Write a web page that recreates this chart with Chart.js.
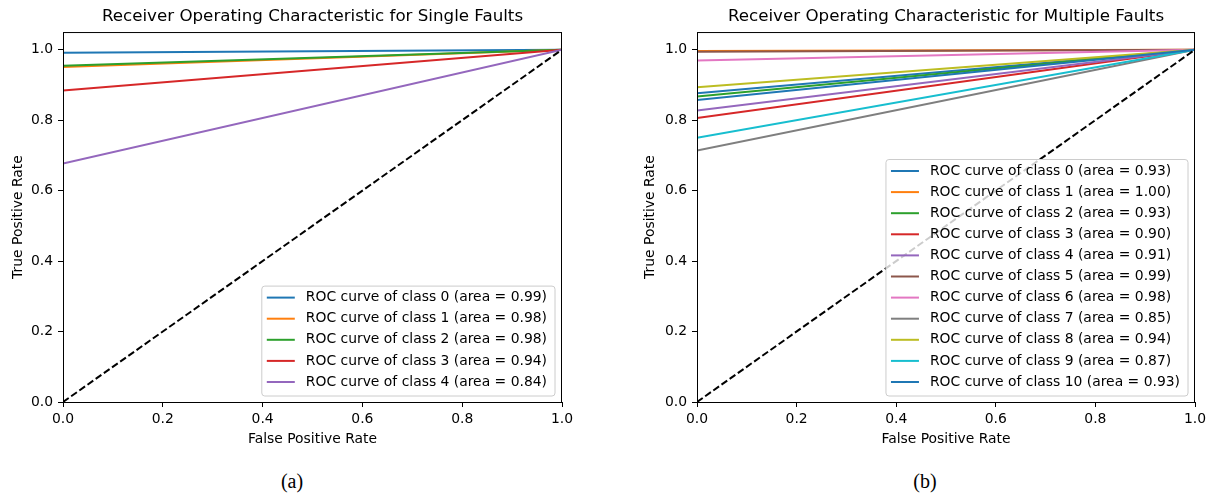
<!DOCTYPE html>
<html>
<head>
<meta charset="utf-8">
<script src="https://cdn.jsdelivr.net/npm/chart.js@4.4.1/dist/chart.umd.min.js"></script>
<style>
    html, body { margin: 0; padding: 0; background: #fff; overflow: hidden; }
    #page { position: relative; width: 1215px; height: 494px; }
    canvas { position: absolute; top: 0; }
    #chartSingle { left: 0; }
    #chartMulti { left: 634px; }
    .caption { position: absolute; top: 470px; width: 60px; text-align: center;
        font-family: "Liberation Serif", "Times New Roman", serif; font-size: 20px; color: #000; }
</style>
</head>
<body>
<div id="page">
    <canvas id="chartSingle" width="600" height="460"></canvas>
    <canvas id="chartMulti" width="581" height="460"></canvas>
    <div class="caption" style="left: 262px;">(a)</div>
    <div class="caption" style="left: 895px;">(b)</div>
</div>
<script>
// ROC data (one operating point per class)
const singleClasses = ['0', '1', '2', '3', '4'];
const singleFpr = [0.0, 0.0, 0.0, 0.0, 0.0];
const singleTpr = [0.991, 0.951, 0.954, 0.884, 0.677];
const singleAuc = ['0.99', '0.98', '0.98', '0.94', '0.84'];

const multiClasses = ['0', '1', '2', '3', '4', '5', '6', '7', '8', '9', '10'];
const multiFpr = [0.0, 0.0, 0.0, 0.0, 0.0, 0.0, 0.0, 0.0, 0.0, 0.0, 0.0];
const multiTpr = [0.876, 0.996, 0.867, 0.806, 0.827, 0.994, 0.969, 0.714, 0.893, 0.750, 0.857];
const multiAuc = ['0.93', '1.00', '0.93', '0.90', '0.91', '0.99', '0.98', '0.85', '0.94', '0.87', '0.93'];

const xTicks = [0.0, 0.2, 0.4, 0.6, 0.8, 1.0];
const yTicks = [0.0, 0.2, 0.4, 0.6, 0.8, 1.0];

const colors = ['#1f77b4', '#ff7f0e', '#2ca02c', '#d62728', '#9467bd',
    '#8c564b', '#e377c2', '#7f7f7f', '#bcbd22', '#17becf'];

const FONT = '"DejaVu Sans", sans-serif';
const tickFont = { family: FONT, size: 13.9, lineHeight: 1.2 };

// axes box on top of the lines, like matplotlib spines
const axesFrame = {
    id: 'axesFrame',
    afterDatasetsDraw(chart) {
        const { ctx, chartArea } = chart;
        ctx.save();
        ctx.strokeStyle = '#000';
        ctx.lineWidth = 1;
        ctx.strokeRect(chartArea.left + 0.5, chartArea.top + 0.5,
            chartArea.right - chartArea.left - 1, chartArea.bottom - chartArea.top);
        ctx.restore();
    }
};

// legend in the lower right corner of the plot area
const rocLegend = {
    id: 'rocLegend',
    afterDatasetsDraw(chart) {
        const { ctx, chartArea } = chart;
        const items = chart.data.datasets.filter(d => d.label);
        ctx.save();
        ctx.font = '13.9px ' + FONT;
        const textW = Math.max(...items.map(d => ctx.measureText(d.label).width));
        const w = 5 + 28 + 11 + textW + 8;
        const h = 11.5 + (items.length - 1) * 21.1 + 14;
        const x = chartArea.right - 7 - w;
        const y = chartArea.bottom - 6 - h;

        ctx.beginPath();
        if (ctx.roundRect) ctx.roundRect(x, y, w, h, 3); else ctx.rect(x, y, w, h);
        ctx.fillStyle = 'rgba(255,255,255,0.8)';
        ctx.fill();
        ctx.strokeStyle = '#cccccc';
        ctx.lineWidth = 1;
        ctx.stroke();

        ctx.textBaseline = 'middle';
        ctx.textAlign = 'left';
        items.forEach((d, i) => {
            const cy = y + 11.5 + i * 21.1;
            ctx.beginPath();
            ctx.moveTo(x + 5, cy);
            ctx.lineTo(x + 33, cy);
            ctx.strokeStyle = d.borderColor;
            ctx.lineWidth = 2;
            ctx.stroke();
            ctx.fillStyle = '#000';
            ctx.fillText(d.label, x + 44, cy);
        });
        ctx.restore();
    }
};

function buildDatasets(classes, fpr, tpr, auc) {
    const sets = classes.map((c, i) => ({
        label: `ROC curve of class ${c} (area = ${auc[i]})`,
        data: [{ x: 0, y: 0 }, { x: fpr[i], y: tpr[i] }, { x: 1, y: 1 }],
        borderColor: colors[i % colors.length],
        borderWidth: 2,
        pointRadius: 0,
        fill: false,
        order: -i
    }));
    // chance line
    sets.push({
        label: '',
        data: [{ x: 0, y: 0 }, { x: 1, y: 1 }],
        borderColor: '#000',
        borderWidth: 2,
        borderDash: [7, 3],
        pointRadius: 0,
        fill: false,
        order: -100
    });
    return sets;
}

function buildOptions(title, rightPad, yTitlePad) {
    return {
        responsive: false,
        animation: false,
        layout: { padding: { left: 0, right: rightPad, top: 0, bottom: 0 } },
        plugins: {
            legend: { display: false },
            tooltip: { enabled: false },
            title: {
                display: true,
                fullSize: false,
                text: title,
                color: '#000',
                font: { family: FONT, size: 16.7, weight: 'normal', lineHeight: 1.2 },
                padding: { top: 7, bottom: 5 }
            }
        },
        scales: {
            x: {
                type: 'linear',
                min: 0,
                max: 1,
                afterFit: s => { s.height = 58; },
                afterBuildTicks: s => { s.ticks = xTicks.map(v => ({ value: v })); },
                ticks: { callback: v => v.toFixed(1), color: '#000', font: tickFont, padding: 4, maxRotation: 0 },
                grid: { drawOnChartArea: false, tickLength: 5, color: '#000' },
                border: { display: false },
                title: { display: true, text: 'False Positive Rate', color: '#000', font: tickFont, padding: { top: 0, bottom: 12 } }
            },
            y: {
                type: 'linear',
                min: 0,
                max: 1.05,
                afterFit: s => { s.width = 63; },
                afterBuildTicks: s => { s.ticks = yTicks.map(v => ({ value: v })); },
                ticks: { callback: v => v.toFixed(1), color: '#000', font: tickFont, padding: 5 },
                grid: { drawOnChartArea: false, tickLength: 5, color: '#000' },
                border: { display: false },
                title: { display: true, text: 'True Positive Rate', color: '#000', font: tickFont, padding: { top: yTitlePad, bottom: 0 } }
            }
        }
    };
}

new Chart(document.getElementById('chartSingle').getContext('2d'), {
    type: 'line',
    data: { datasets: buildDatasets(singleClasses, singleFpr, singleTpr, singleAuc) },
    options: buildOptions('Receiver Operating Characteristic for Single Faults', 38, 10),
    plugins: [axesFrame, rocLegend]
});

new Chart(document.getElementById('chartMulti').getContext('2d'), {
    type: 'line',
    data: { datasets: buildDatasets(multiClasses, multiFpr, multiTpr, multiAuc) },
    options: buildOptions('Receiver Operating Characteristic for Multiple Faults', 20, 8),
    plugins: [axesFrame, rocLegend]
});
</script>
</body>
</html>
